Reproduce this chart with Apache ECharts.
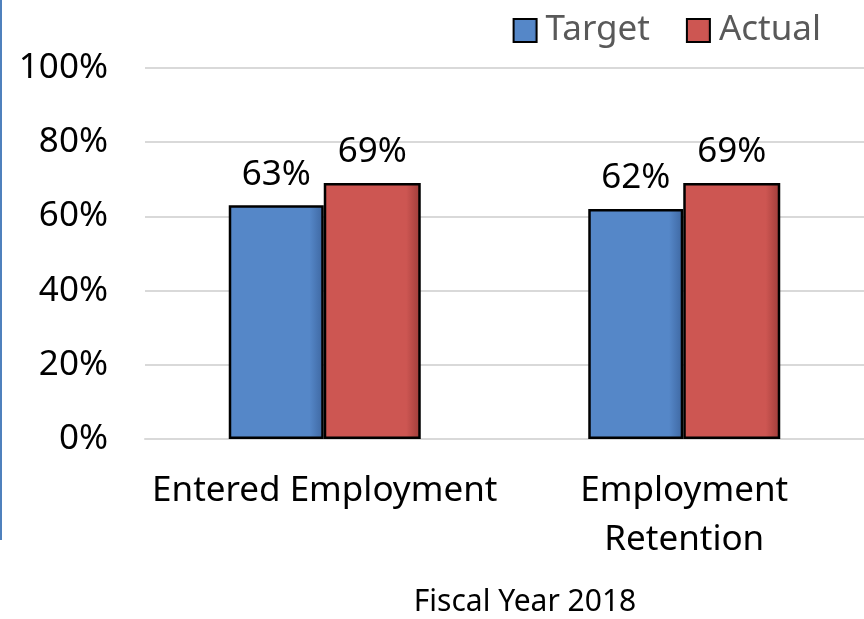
<!DOCTYPE html>
<html>
<head>
<meta charset="utf-8">
<script src="https://cdn.jsdelivr.net/npm/echarts@6/dist/echarts.min.js"></script>
<style>html,body{margin:0;padding:0;background:#fff}#c{width:864px;height:619px}</style>
</head>
<body>
<div id="c"></div>
<script>
const categories = ['Entered Employment', 'Employment\nRetention'];
const targetValues = [63, 62];
const actualValues = [69, 69];
const seriesNames = ['Target', 'Actual'];
const xTitle = 'Fiscal Year 2018';

const FONT = 'Noto Sans';
const FS = 35;
const chart = echarts.init(document.getElementById('c'));
function barStyle(c1, c2) {
  return {
    color: new echarts.graphic.LinearGradient(0, 0, 1, 0, [
      {offset: 0, color: c1}, {offset: 0.85, color: c1}, {offset: 1, color: c2}
    ]),
    borderColor: '#000', borderWidth: 2.5
  };
}
chart.setOption({
  animation: false,
  grid: {left: 145, right: 0, top: 68, bottom: 180},
  legend: {
    data: seriesNames, top: 8, right: 38, itemWidth: 23, itemHeight: 23, itemGap: 36,
    icon: 'rect',
    textStyle: {fontFamily: FONT, fontSize: FS, color: '#595959', padding: [0, 0, 0, 4]}
  },
  xAxis: {
    type: 'category', data: categories,
    axisLine: {lineStyle: {color: '#d9d9d9', width: 2}},
    axisTick: {show: false},
    axisLabel: {fontFamily: FONT, fontSize: FS, color: '#000', lineHeight: 49, margin: 28, verticalAlign: 'top', interval: 0}
  },
  yAxis: {
    type: 'value', min: 0, max: 100, interval: 20,
    axisLine: {show: false}, axisTick: {show: false},
    splitLine: {lineStyle: {color: '#d9d9d9', width: 2}},
    axisLabel: {formatter: '{value}%', fontFamily: FONT, fontSize: FS, color: '#000', margin: 37}
  },
  graphic: [
    {type: 'line', shape: {x1: 1, y1: 0, x2: 1, y2: 540}, style: {stroke: '#4F81BD', lineWidth: 2}},
    {type: 'text', x: 525, y: 602, style: {text: xTitle, fontFamily: FONT, fontSize: 30, fill: '#000', textAlign: 'center', textVerticalAlign: 'middle'}}
  ],
  series: [
    {name: seriesNames[0], type: 'bar', data: targetValues, barWidth: 95, barGap: '0%',
     itemStyle: barStyle('#5587C8', '#3d66a0'),
     label: {show: true, position: 'top', distance: 13, formatter: '{c}%', fontFamily: FONT, fontSize: FS, color: '#000'}},
    {name: seriesNames[1], type: 'bar', data: actualValues, barWidth: 97,
     itemStyle: barStyle('#CD5652', '#9e3c39'),
     label: {show: true, position: 'top', distance: 13, formatter: '{c}%', fontFamily: FONT, fontSize: FS, color: '#000'}}
  ]
});
</script>
</body>
</html>
